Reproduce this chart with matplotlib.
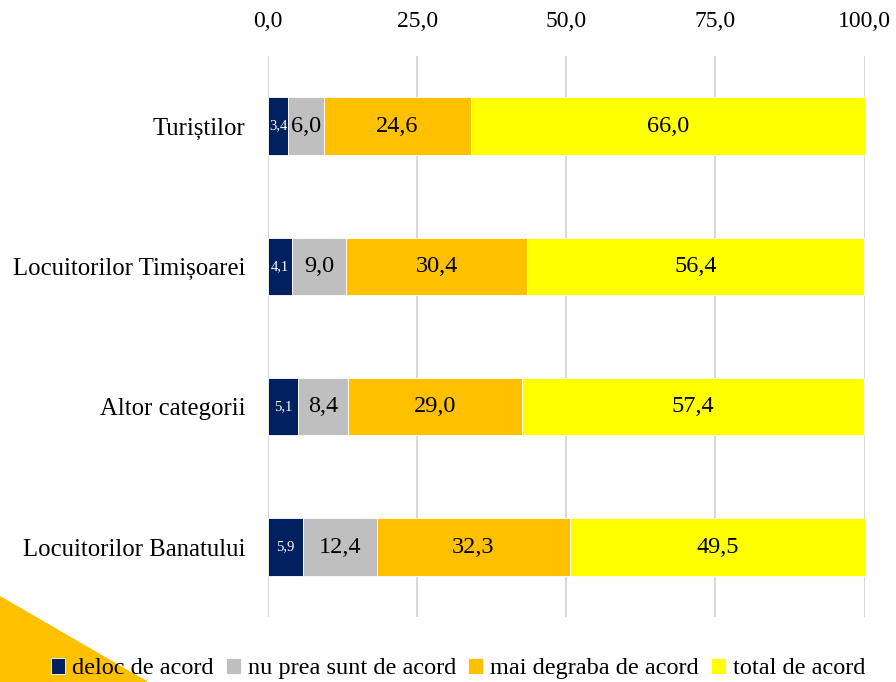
import matplotlib.pyplot as plt
from matplotlib.patches import Polygon
from matplotlib.ticker import FuncFormatter

categories = ["Turiștilor", "Locuitorilor Timișoarei", "Altor categorii", "Locuitorilor Banatului"]
series_names = ["deloc de acord", "nu prea sunt de acord", "mai degraba de acord", "total de acord"]
deloc = [3.4, 4.1, 5.1, 5.9]
nu_prea = [6.0, 9.0, 8.4, 12.4]
mai_degraba = [24.6, 30.4, 29.0, 32.3]
total = [66.0, 56.4, 57.4, 49.5]
colors = ["#002060", "#BFBFBF", "#FFC000", "#FFFF00"]

plt.rcParams['font.family'] = ['Liberation Serif', 'DejaVu Serif']

fig = plt.figure(figsize=(8.96, 6.82), dpi=100)
ax = fig.add_axes([0.299, 0.095, 0.666, 0.823])

# decorative triangle in the lower-left corner, behind everything
fig.patches.append(Polygon([[0, 0], [0, 0.125], [0.164, 0]], closed=True,
                           transform=fig.transFigure, color="#FFC000", zorder=-1))

ypos = list(range(len(categories)))
left = [0.0] * len(categories)
for i, vals in enumerate([deloc, nu_prea, mai_degraba, total]):
    bars = ax.barh(ypos, vals, left=left, height=0.41, color=colors[i],
                   edgecolor="white", linewidth=0.6, label=series_names[i], zorder=3)
    for b, v in zip(bars, vals):
        cx = b.get_x() + b.get_width() / 2
        txt = f"{v:.1f}".replace(".", ",")
        if i == 0:
            ax.text(cx, b.get_y() + b.get_height() / 2, txt, ha="center", va="center",
                    color="white", fontsize=10.5, zorder=4)
        else:
            ax.text(cx, b.get_y() + b.get_height() / 2, txt, ha="center", va="center",
                    color="black", fontsize=17.5, zorder=4)
    left = [l + v for l, v in zip(left, vals)]

ax.set_xlim(0, 100)
ax.set_ylim(len(categories) - 0.5, -0.5)
ax.set_yticks(ypos)
ax.set_yticklabels(categories, fontsize=17.8)
ax.set_xticks([0, 25, 50, 75, 100])
ax.xaxis.set_major_formatter(FuncFormatter(lambda x, p: f"{x:.1f}".replace(".", ",")))
ax.xaxis.tick_top()
ax.tick_params(axis="x", length=0, labelsize=17, pad=17)
ax.tick_params(axis="y", length=0, pad=16)
ax.grid(axis="x", color="#D9D9D9", linewidth=1.5, zorder=0)
ax.patch.set_alpha(0)
for s in ax.spines.values():
    s.set_visible(False)

leg = ax.legend(loc="lower center", bbox_to_anchor=(0.511, -0.014), bbox_transform=fig.transFigure,
                ncol=4, frameon=False, fontsize=17.5, handlelength=0.6, handleheight=0.6,
                handletextpad=0.3, columnspacing=0.5, borderaxespad=0.1)

fig.savefig("out.png", dpi=100)
